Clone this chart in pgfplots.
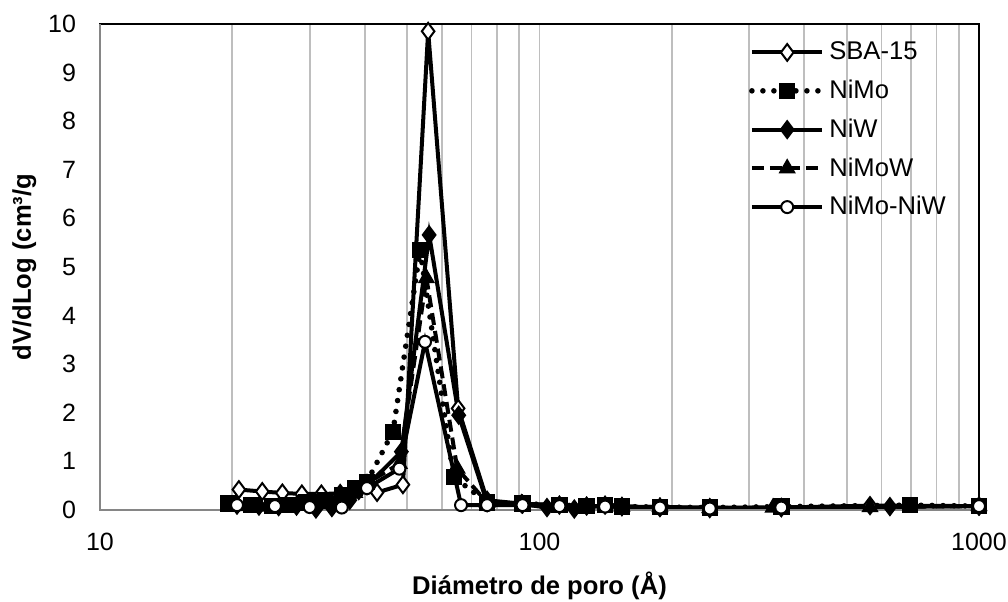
\documentclass[border=0pt]{standalone}
\usepackage{fontspec}
\setmainfont{Liberation Sans}
\usepackage{pgfplots}
\pgfplotsset{compat=1.18}

\definecolor{gridgray}{RGB}{190,190,190}
\definecolor{axgray}{RGB}{134,134,134}

\begin{document}
\begin{tikzpicture}
\begin{axis}[
    name=ax,
    scale only axis,
    width=439.5pt, height=243pt,
    xmode=log, log basis x=10,
    xmin=10, xmax=1000,
    ymin=0, ymax=10,
    xtick={10,100,1000},
    minor xtick={20,30,40,50,60,70,80,90,200,300,400,500,600,700,800,900},
    ytick={0,1,...,10},
    log ticks with fixed point,
    /pgf/number format/1000 sep={},
    /pgf/number format/assume math mode=true,
    tick label style={font=\fontsize{12.5}{14}\selectfont},
    xticklabel style={yshift=-8pt},
    yticklabel style={xshift=-8.5pt},
    major tick length=0pt, minor tick length=0pt,
    xmajorgrids, xminorgrids,
    grid style={gridgray, line width=0.9pt},
    minor grid style={gridgray, line width=0.9pt},
    axis line style={black, line width=0.8pt},
    xlabel={\textbf{Diámetro de poro (Å)}},
    ylabel={\textbf{dV/dLog (cm³/g}},
    label style={font=\fontsize{12.8}{15}\selectfont},
    xlabel style={yshift=-3.5pt},
    ylabel style={yshift=-1pt},
    legend style={draw=none, fill=none, at={(0.738,0.972)}, anchor=north west,
        inner xsep=0pt, inner ysep=0pt,
        font=\fontsize{12.8}{15}\selectfont, row sep=4.6pt,
        legend cell align=left},
    legend image code/.code={%
        \draw[mark repeat=2, mark phase=2] plot coordinates {(0cm,0cm) (0.62cm,0cm) (1.24cm,0cm)};},
    every axis plot/.append style={line width=2pt, black},
    clip=false,
]
\addplot[solid, mark=diamond*, mark options={fill=white, solid, line width=1pt}, mark size=4.2pt]
coordinates {
 (20.7,0.42) (23.4,0.38) (26.0,0.35) (28.8,0.33) (31.9,0.33) (35.2,0.34)
 (38.8,0.40) (42.7,0.36) (48.9,0.52) (55.8,9.85) (65.3,2.09) (76,0.20)
 (91,0.13) (111,0.10) (128,0.08) (154,0.07) (188,0.06) (244,0.05)
 (355,0.05) (565,0.09) (1000,0.08)
};
\addlegendentry{SBA-15}

\addplot[line width=2.8pt, line cap=round, dash pattern=on 0pt off 5.5pt, mark=square*, mark options={solid, line width=1pt}, mark size=3.6pt]
coordinates {
 (19.6,0.13) (22.1,0.10) (24.6,0.08) (26.8,0.10) (29.5,0.15) (32.5,0.20)
 (35.5,0.30) (38.0,0.45) (40.5,0.58) (46.4,1.61) (53.5,5.35) (63.8,0.68)
 (76,0.15) (91.5,0.13) (111,0.10) (128,0.08) (141,0.10) (154,0.07)
 (188,0.06) (244,0.05) (355,0.07) (697,0.10) (1000,0.08)
};
\addlegendentry{NiMo}

\addplot[solid, mark=diamond*, mark options={solid, line width=1pt}, mark size=4.2pt]
coordinates {
 (20.5,0.10) (23.0,0.08) (25.5,0.07) (28.0,0.08) (31.0,0.02) (33.7,0.05)
 (37.0,0.20) (40.5,0.50) (48.5,1.20) (56.1,5.66) (65.5,1.95) (76,0.15)
 (91.5,0.12) (104,0.05) (120,0.02) (141,0.10) (154,0.07) (188,0.05)
 (244,0.03) (355,0.05) (627,0.07) (1000,0.08)
};
\addlegendentry{NiW}

\addplot[dash pattern=on 6pt off 3pt, mark=triangle*, mark options={solid, line width=1pt}, mark size=4pt]
coordinates {
 (20.5,0.08) (23.0,0.07) (25.5,0.07) (28.0,0.10) (31.0,0.15) (34.5,0.20)
 (38.0,0.35) (40.5,0.55) (48.0,0.95) (55.3,4.77) (65.0,0.85) (76,0.15)
 (91.5,0.12) (111,0.10) (128,0.08) (154,0.07) (188,0.06) (244,0.04)
 (340,0.05) (565,0.06) (1000,0.08)
};
\addlegendentry{NiMoW}

\addplot[solid, mark=*, mark options={fill=white, solid, line width=1pt}, mark size=3pt]
coordinates {
 (20.5,0.10) (25.0,0.08) (30.0,0.06) (35.5,0.05) (40.5,0.45) (48.0,0.85)
 (54.9,3.46) (66.3,0.10) (76,0.10) (91.5,0.10) (111,0.08) (141,0.07)
 (188,0.05) (244,0.03) (355,0.05) (1000,0.08)
};
\addlegendentry{NiMo-NiW}

\draw[axgray, line width=1pt] (rel axis cs:0,1) -- (rel axis cs:0,0) -- (rel axis cs:1,0);
\end{axis}
\pgfresetboundingbox
\path[use as bounding box] ([shift={(-50pt,-46pt)}]ax.south west) rectangle ([shift={(14.5pt,12pt)}]ax.north east);
\end{tikzpicture}
\end{document}
